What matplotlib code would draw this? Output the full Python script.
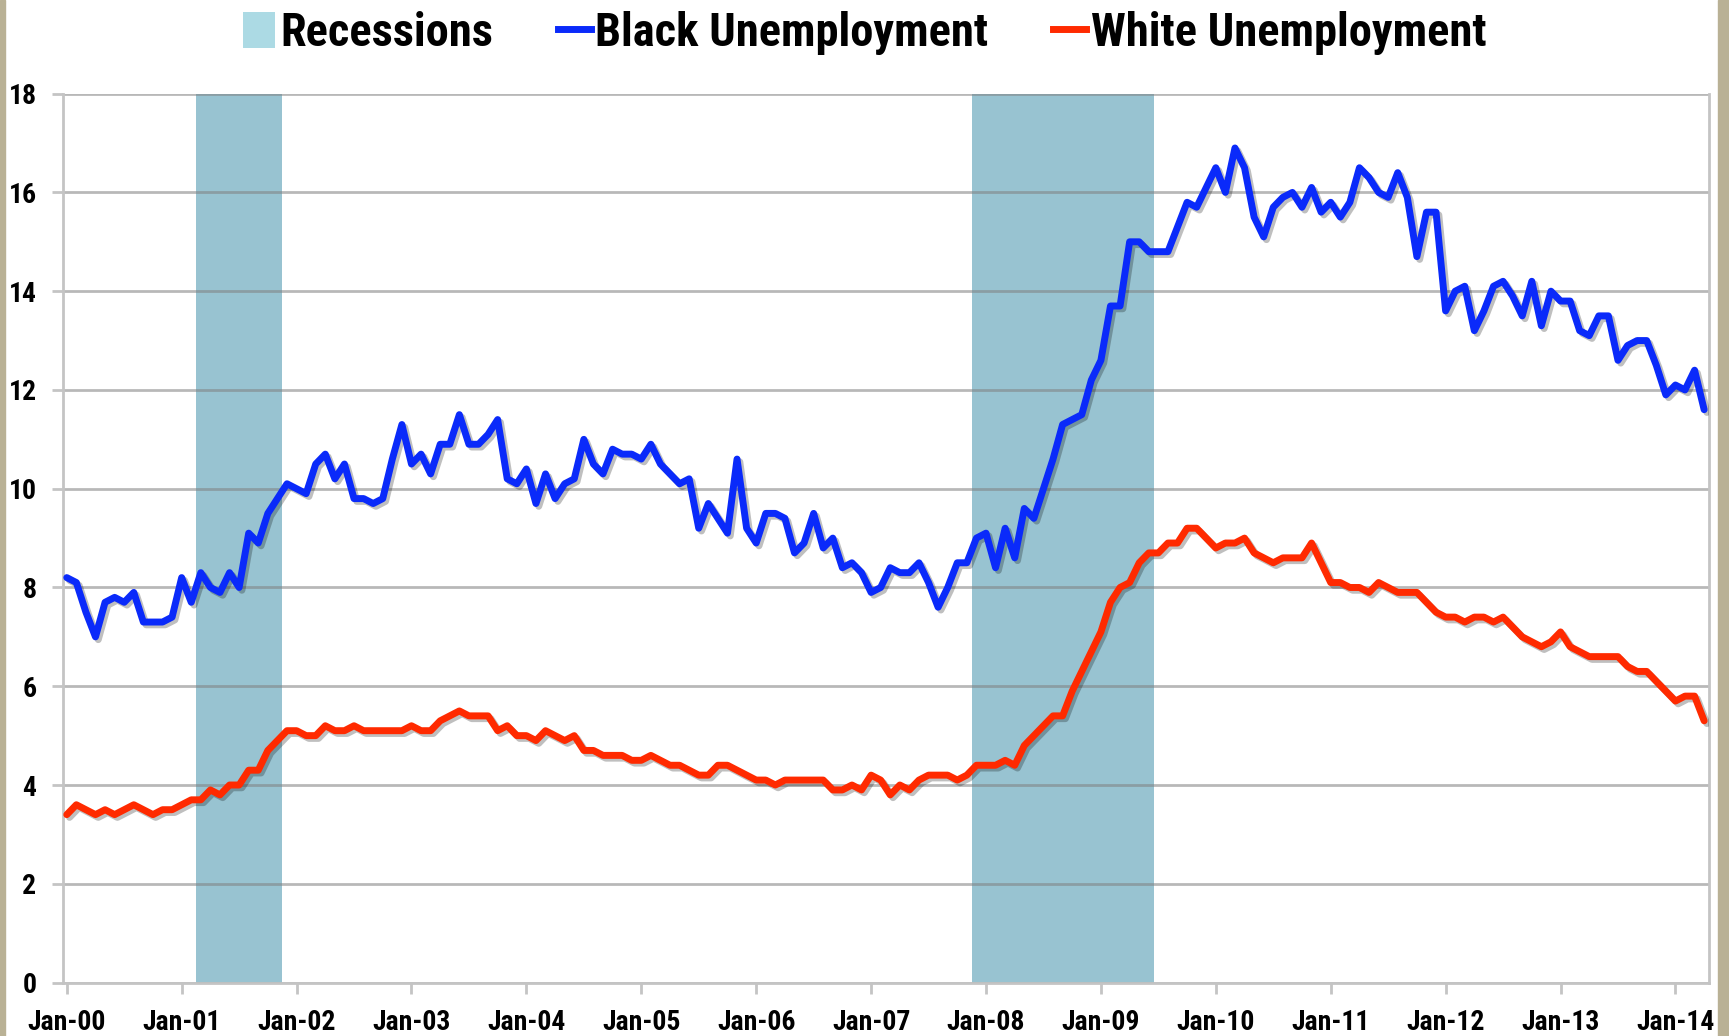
# plot.py
import matplotlib
matplotlib.use('Agg')
import matplotlib.pyplot as plt
import matplotlib.patheffects as pe
from matplotlib import font_manager
from matplotlib.patches import Patch, Rectangle
from matplotlib.lines import Line2D
import numpy as np

years = ['00', '01', '02', '03', '04', '05', '06', '07', '08', '09', '10', '11', '12', '13', '14']
tick_labels = ['Jan-' + y for y in years]

# monthly rates, Jan 2000 .. Apr 2014
black = [8.2, 8.1, 7.5, 7.0, 7.7, 7.8, 7.7, 7.9, 7.3, 7.3, 7.3, 7.4,
         8.2, 7.7, 8.3, 8.0, 7.9, 8.3, 8.0, 9.1, 8.9, 9.5, 9.8, 10.1,
         10.0, 9.9, 10.5, 10.7, 10.2, 10.5, 9.8, 9.8, 9.7, 9.8, 10.6, 11.3,
         10.5, 10.7, 10.3, 10.9, 10.9, 11.5, 10.9, 10.9, 11.1, 11.4, 10.2, 10.1,
         10.4, 9.7, 10.3, 9.8, 10.1, 10.2, 11.0, 10.5, 10.3, 10.8, 10.7, 10.7,
         10.6, 10.9, 10.5, 10.3, 10.1, 10.2, 9.2, 9.7, 9.4, 9.1, 10.6, 9.2,
         8.9, 9.5, 9.5, 9.4, 8.7, 8.9, 9.5, 8.8, 9.0, 8.4, 8.5, 8.3,
         7.9, 8.0, 8.4, 8.3, 8.3, 8.5, 8.1, 7.6, 8.0, 8.5, 8.5, 9.0,
         9.1, 8.4, 9.2, 8.6, 9.6, 9.4, 10.0, 10.6, 11.3, 11.4, 11.5, 12.2,
         12.6, 13.7, 13.7, 15.0, 15.0, 14.8, 14.8, 14.8, 15.3, 15.8, 15.7, 16.1,
         16.5, 16.0, 16.9, 16.5, 15.5, 15.1, 15.7, 15.9, 16.0, 15.7, 16.1, 15.6,
         15.8, 15.5, 15.8, 16.5, 16.3, 16.0, 15.9, 16.4, 15.9, 14.7, 15.6, 15.6,
         13.6, 14.0, 14.1, 13.2, 13.6, 14.1, 14.2, 13.9, 13.5, 14.2, 13.3, 14.0,
         13.8, 13.8, 13.2, 13.1, 13.5, 13.5, 12.6, 12.9, 13.0, 13.0, 12.5, 11.9,
         12.1, 12.0, 12.4, 11.6]

white = [3.4, 3.6, 3.5, 3.4, 3.5, 3.4, 3.5, 3.6, 3.5, 3.4, 3.5, 3.5,
         3.6, 3.7, 3.7, 3.9, 3.8, 4.0, 4.0, 4.3, 4.3, 4.7, 4.9, 5.1,
         5.1, 5.0, 5.0, 5.2, 5.1, 5.1, 5.2, 5.1, 5.1, 5.1, 5.1, 5.1,
         5.2, 5.1, 5.1, 5.3, 5.4, 5.5, 5.4, 5.4, 5.4, 5.1, 5.2, 5.0,
         5.0, 4.9, 5.1, 5.0, 4.9, 5.0, 4.7, 4.7, 4.6, 4.6, 4.6, 4.5,
         4.5, 4.6, 4.5, 4.4, 4.4, 4.3, 4.2, 4.2, 4.4, 4.4, 4.3, 4.2,
         4.1, 4.1, 4.0, 4.1, 4.1, 4.1, 4.1, 4.1, 3.9, 3.9, 4.0, 3.9,
         4.2, 4.1, 3.8, 4.0, 3.9, 4.1, 4.2, 4.2, 4.2, 4.1, 4.2, 4.4,
         4.4, 4.4, 4.5, 4.4, 4.8, 5.0, 5.2, 5.4, 5.4, 5.9, 6.3, 6.7,
         7.1, 7.7, 8.0, 8.1, 8.5, 8.7, 8.7, 8.9, 8.9, 9.2, 9.2, 9.0,
         8.8, 8.9, 8.9, 9.0, 8.7, 8.6, 8.5, 8.6, 8.6, 8.6, 8.9, 8.5,
         8.1, 8.1, 8.0, 8.0, 7.9, 8.1, 8.0, 7.9, 7.9, 7.9, 7.7, 7.5,
         7.4, 7.4, 7.3, 7.4, 7.4, 7.3, 7.4, 7.2, 7.0, 6.9, 6.8, 6.9,
         7.1, 6.8, 6.7, 6.6, 6.6, 6.6, 6.6, 6.4, 6.3, 6.3, 6.1, 5.9,
         5.7, 5.8, 5.8, 5.3]

# recessions: first and last month, counted from Jan 2000
recessions = [(14, 22), (95, 113)]

blue = '#0a2afa'
red = '#ff2a00'

# narrow bold face if one is around, otherwise Lato
installed = {f.name for f in font_manager.fontManager.ttflist}
face = 'Lato'
for cand in ['Liberation Sans Narrow', 'Roboto Condensed', 'Open Sans Condensed']:
    if cand in installed:
        face = cand
        break
plt.rcParams['font.family'] = [face, 'DejaVu Sans']
plt.rcParams['font.weight'] = 'bold'

fig = plt.figure(figsize=(17.29, 10.36), dpi=100)
ax = fig.add_axes([0.0364, 0.0516, 0.952, 0.858])

months = np.arange(len(black))
for start, end in recessions:
    ax.axvspan(start - 0.5, end + 0.5, color='#98c3d1', lw=0, zorder=1)

shadow = [pe.SimpleLineShadow(offset=(2, -2), shadow_color='k', alpha=0.25), pe.Normal()]
ax.plot(months, black, color=blue, lw=5, solid_joinstyle='round', solid_capstyle='round',
        path_effects=shadow, zorder=3)
ax.plot(months, white, color=red, lw=5, solid_joinstyle='round', solid_capstyle='round',
        path_effects=shadow, zorder=3)

ax.set_xlim(-0.4, 171.5)
ax.set_ylim(0, 18)
ax.set_yticks(range(0, 19, 2))
ax.set_xticks(np.arange(0, len(tick_labels) * 12, 12))
ax.set_xticklabels(tick_labels)
ax.grid(axis='y', color='#7f7f7f', alpha=0.55, lw=2, zorder=1.5)

for side in ['left', 'bottom', 'right']:
    ax.spines[side].set_color('#c4c4c4')
    ax.spines[side].set_linewidth(2)
ax.spines['top'].set_visible(False)

ax.tick_params(axis='both', length=8, width=2, color='#c4c4c4', labelsize=20, labelcolor='black')
ax.tick_params(axis='y', pad=11)
ax.tick_params(axis='x', pad=11)

handles = [Patch(facecolor='#acdae4', edgecolor='none'),
           Line2D([], [], color=blue, lw=5),
           Line2D([], [], color=red, lw=5)]
labels = ['Recessions', 'Black Unemployment', 'White Unemployment']
fig.legend(handles, labels, loc='center', bbox_to_anchor=(0.5, 0.968), ncol=3, frameon=False,
           fontsize=33.5, handlelength=0.7, handleheight=0.8, handletextpad=0.1, columnspacing=1.4)

# beige page edges
fig.patches.append(Rectangle((0, 0), 0.0028, 1, transform=fig.transFigure, color='#b9b195', zorder=0))
fig.patches.append(Rectangle((0.9935, 0), 0.0065, 1, transform=fig.transFigure, color='#b9b195', zorder=0))

fig.savefig('out.png', dpi=100)
